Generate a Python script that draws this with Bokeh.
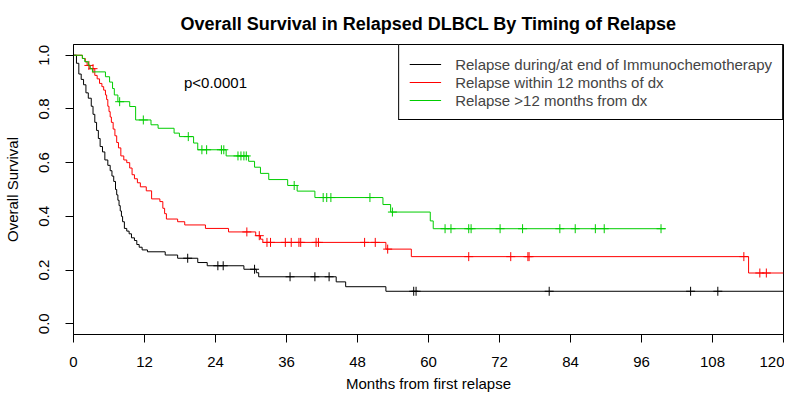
import numpy as np
from bokeh.plotting import figure
from bokeh.models import Range1d, Legend, LegendItem, FixedTicker
from bokeh.core.properties import value
from bokeh.embed import file_html
from bokeh.resources import INLINE

# ---------------- data ----------------
title_text = "Overall Survival in Relapsed DLBCL By Timing of Relapse"
x_label = "Months from first relapse"
y_label = "Overall Survival"
x_ticks = [0, 12, 24, 36, 48, 60, 72, 84, 96, 108, 120]
y_ticks = [0.0, 0.2, 0.4, 0.6, 0.8, 1.0]
y_tick_labels = ["0.0", "0.2", "0.4", "0.6", "0.8", "1.0"]
p_value_text = "p<0.0001"
p_value_x = 24
p_value_y = 0.9

series_names = [
    "Relapse during/at end of Immunochemotherapy",
    "Relapse within 12 months of dx",
    "Relapse >12 months from dx",
]
series_colors = ["#000000", "#FF0000", "#00CD00"]

# Group 1: relapse during / at end of immunochemotherapy
blk_t = [0, 0.5, 0.9, 1.3, 1.7, 2.1, 2.5, 3.0, 3.3, 3.6, 3.9, 4.2, 4.5, 4.9, 5.3,
         5.8, 6.2, 6.5, 6.8, 7.1, 7.3, 7.5, 7.7, 7.9, 8.1, 8.3, 8.6, 9.0, 9.4, 9.8,
         10.3, 10.7, 11.1, 11.6, 12.5, 15.5, 17.6, 21.0, 22.6, 28.8, 30.9, 31.3,
         44.4, 46.0, 52.8]
blk_s = [1.0, 0.97, 0.93, 0.91, 0.89, 0.86, 0.84, 0.81, 0.78, 0.75, 0.72, 0.69, 0.66,
         0.64, 0.61, 0.59, 0.57, 0.55, 0.53, 0.50, 0.48, 0.46, 0.44, 0.42, 0.40, 0.38,
         0.355, 0.345, 0.335, 0.32, 0.31, 0.295, 0.285, 0.275, 0.268, 0.256, 0.244,
         0.228, 0.216, 0.203, 0.19, 0.175, 0.156, 0.138, 0.121]
blk_end = 120
blk_cens = [19.3, 24.4, 25.3, 30.6, 36.6, 40.8, 43.2, 57.5, 57.9, 80.4, 104.3, 108.9]

# Group 2: relapse within 12 months of diagnosis
red_t = [0, 1.5, 2.0, 2.3, 2.8, 3.6, 4.0, 4.4, 4.8, 5.1, 5.4, 5.6, 5.8, 6.0, 6.2,
         6.4, 6.7, 7.0, 7.3, 7.6, 8.0, 8.5, 9.0, 9.5, 9.9, 10.3, 10.8, 11.3, 12.3,
         13.2, 14.6, 15.1, 15.4, 15.7, 17.6, 18.8, 22.3, 26.2, 30.8, 31.6, 32.0,
         52.8, 57.1, 114.1]
red_s = [1.0, 0.988, 0.975, 0.962, 0.95, 0.925, 0.912, 0.895, 0.883, 0.87, 0.852,
         0.835, 0.81, 0.79, 0.77, 0.75, 0.725, 0.70, 0.675, 0.655, 0.625, 0.61, 0.60,
         0.58, 0.555, 0.54, 0.525, 0.51, 0.495, 0.465, 0.455, 0.43, 0.41, 0.39, 0.38,
         0.368, 0.355, 0.342, 0.328, 0.315, 0.303, 0.278, 0.250, 0.189]
red_end = 120
red_cens = [2.6, 3.3, 29.3, 31.4, 32.7, 33.3, 35.8, 36.8, 38.1, 38.4, 41.0, 41.4,
            49.2, 51.0, 53.1, 66.8, 73.9, 76.8, 77.0, 113.3, 116.0, 117.1]

# Group 3: relapse more than 12 months from diagnosis
grn_t = [0, 1.5, 1.9, 2.5, 2.8, 3.2, 5.4, 6.1, 6.6, 6.9, 7.5, 9.5, 10.5, 13.1, 14.3,
         17.0, 17.9, 20.3, 21.0, 25.8, 29.6, 30.6, 31.6, 33.0, 36.2, 37.8, 40.8,
         52.3, 53.6, 60.3, 60.8]
grn_s = [1.0, 0.988, 0.976, 0.963, 0.95, 0.938, 0.92, 0.90, 0.876, 0.852, 0.827,
         0.809, 0.759, 0.741, 0.728, 0.710, 0.697, 0.673, 0.648, 0.625, 0.605, 0.583,
         0.56, 0.537, 0.515, 0.494, 0.47, 0.444, 0.416, 0.383, 0.354]
grn_end = 100.1
grn_cens = [7.8, 11.8, 19.4, 21.7, 22.5, 25.0, 25.4, 27.8, 28.3, 28.8, 29.2, 37.3,
            42.2, 42.8, 43.5, 50.1, 53.9, 62.8, 63.8, 66.8, 67.2, 72.1, 75.9, 82.2,
            84.8, 88.2, 89.7, 99.3]

FONT = "Liberation Sans"

p = figure(width=784, height=394,
           x_range=Range1d(0, 120), y_range=Range1d(-0.04, 1.04),
           output_backend="svg", toolbar_location=None,
           min_border_left=70, min_border_right=1,
           min_border_top=44, min_border_bottom=59)

p.xgrid.visible = False
p.ygrid.visible = False
p.outline_line_color = "black"
p.outline_line_alpha = 1.0
p.outline_line_width = 1
p.background_fill_color = "white"
p.border_fill_color = "white"

p.title.text = title_text
p.title.align = "center"
p.title.text_font = FONT
p.title.text_font_size = "18px"
p.title.text_font_style = "bold"
p.title.text_color = "black"
p.title.standoff = 22

for ax in (p.xaxis[0], p.yaxis[0]):
    ax.major_tick_out = 8
    ax.major_tick_in = 0
    ax.minor_tick_line_color = None
    ax.axis_line_color = "black"
    ax.major_tick_line_color = "black"
    ax.major_label_text_font = FONT
    ax.major_label_text_font_size = "15px"
    ax.major_label_text_color = "black"
    ax.axis_label_text_font = FONT
    ax.axis_label_text_font_size = "15px"
    ax.axis_label_text_font_style = "normal"
    ax.axis_label_text_color = "black"

p.xaxis.ticker = FixedTicker(ticks=x_ticks)
p.xaxis.axis_label = x_label
p.xaxis.major_label_standoff = 14
p.xaxis.axis_label_standoff = 5

p.yaxis.ticker = FixedTicker(ticks=y_ticks)
p.yaxis.major_label_overrides = {t: l for t, l in zip(y_ticks, y_tick_labels)}
p.yaxis.major_label_orientation = "vertical"
p.yaxis.axis_label = y_label
p.yaxis.major_label_standoff = 16
p.yaxis.axis_label_standoff = 16

groups = [
    (blk_t, blk_s, blk_end, blk_cens),
    (red_t, red_s, red_end, red_cens),
    (grn_t, grn_s, grn_end, grn_cens),
]

items = []
for (t, s, t_end, cens), name, col in zip(groups, series_names, series_colors):
    xs = list(t) + [t_end]
    ys = list(s) + [s[-1]]
    r = p.step(x=xs, y=ys, mode="after", line_color=col, line_width=1)
    ta = np.asarray(t, dtype=float)
    sa = np.asarray(s, dtype=float)
    ca = np.asarray(cens, dtype=float)
    cy = sa[np.searchsorted(ta, ca, side="right") - 1]
    p.scatter(x=ca, y=cy, marker="cross", size=9, line_color=col, line_width=1)
    items.append(LegendItem(label=name, renderers=[r]))

p.text(x=[p_value_x], y=[p_value_y], text=[p_value_text],
       text_font=value(FONT), text_font_size="15px", text_color="black",
       text_align="center", text_baseline="middle")

legend = Legend(items=items, location="top_right")
legend.margin = 0
legend.padding = 10
legend.spacing = 0
legend.glyph_width = 32
legend.glyph_height = 18
legend.label_height = 18
legend.label_standoff = 14
legend.label_text_font = FONT
legend.label_text_font_size = "15px"
legend.border_line_color = "black"
legend.border_line_width = 1
legend.border_line_alpha = 1.0
legend.background_fill_color = "white"
legend.background_fill_alpha = 1.0
p.add_layout(legend)

open("out.html", "w").write(file_html(p, INLINE))
